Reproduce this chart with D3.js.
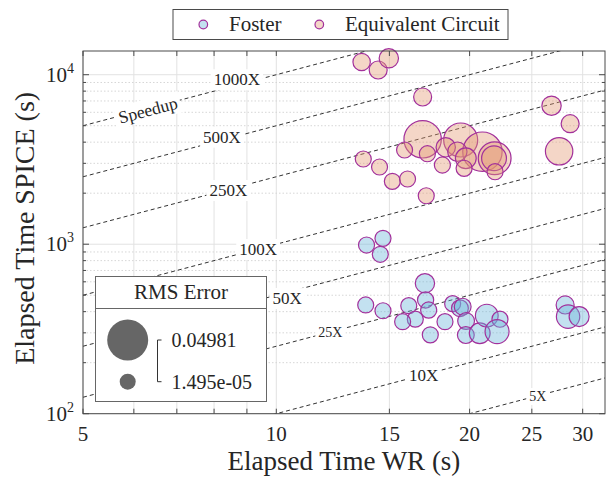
<!DOCTYPE html>
<html>
<head>
<meta charset="utf-8">
<script src="https://cdn.jsdelivr.net/npm/d3@7"></script>
<style>
  html, body { margin: 0; padding: 0; background: #fff; }
  svg { display: block; }
  text { font-family: "Liberation Serif", "Times New Roman", serif; fill: #262626; }
</style>
</head>
<body>
<svg id="chart" width="606" height="477"></svg>
<script>
// ---------------- data ----------------
const fosterWR    = [13.82, 14.66, 14.52, 17.04, 17.08, 17.27, 13.78, 14.66, 16.08, 16.46, 15.73, 17.37, 18.31, 18.82, 19.32, 19.51, 19.75, 19.73, 20.74, 21.27, 22.30, 22.07, 28.17, 28.47, 29.62];
const fosterSPICE = [989, 1083, 872, 588, 469, 409, 438, 405, 434, 361, 349, 292, 349, 446, 419, 428, 352, 291, 298, 379, 361, 305, 438, 374, 374];
const fosterRMS   = [2.0e-5, 2.0e-5, 1.5e-5, 1.1e-3, 3.0e-5, 2.5e-5, 1.5e-5, 1.5e-5, 1.5e-5, 1.5e-5, 1.5e-5, 1.5e-5, 1.5e-5, 1.5e-5, 1.2e-4, 1.2e-4, 1.2e-4, 1.2e-4, 2.1e-3, 4.0e-3, 2.0e-5, 5.5e-3, 4.6e-4, 4.7e-3, 1.5e-3];

const circuitWR    = [13.58, 14.41, 14.97, 16.90, 26.83, 28.68, 27.57, 16.90, 19.37, 20.94, 21.88, 21.83, 21.91, 15.84, 17.19, 18.36, 19.14, 19.73, 18.14, 19.61, 13.66, 14.48, 15.16, 16.01, 17.12];
const circuitSPICE = [11885, 10660, 12497, 7388, 6564, 5139, 3533, 4158, 4118, 3514, 3212, 3212, 2677, 3595, 3418, 3729, 3514, 3212, 2933, 2804, 3182, 2854, 2350, 2425, 1932];
const circuitRMS   = [2.6e-4, 4.6e-4, 1.1e-3, 4.6e-4, 1.1e-3, 4.6e-4, 1.08e-2, 3.67e-2, 2.62e-2, 4.37e-2, 2.29e-2, 6.6e-3, 2.0e-5, 1.5e-5, 2.0e-5, 1.1e-3, 1.1e-3, 2.1e-3, 2.0e-5, 2.0e-5, 1.5e-5, 1.5e-5, 1.5e-5, 1.5e-5, 1.5e-5];

const seriesNames = ["Foster", "Equivalent Circuit"];
const rmsLegendValues = [0.04981, 1.495e-05];
const rmsLegendLabels = ["0.04981", "1.495e-05"];

const speedups = [1000, 500, 250, 100, 50, 25, 10, 5];
// label anchor positions (data coords) along the speedup lines
const speedupLabels = [
  { text: "1000X", x: 8.68,  y: 9396, size: 17 },
  { text: "500X",  x: 8.23,  y: 4308, size: 17 },
  { text: "250X",  x: 8.42,  y: 2088, size: 17 },
  { text: "100X",  x: 9.37,  y: 937,  size: 17 },
  { text: "50X",   x: 10.4,  y: 481,  size: 17 },
  { text: "25X",   x: 12.14, y: 303,  size: 14 },
  { text: "10X",   x: 16.96, y: 169,  size: 17 },
  { text: "5X",    x: 25.54, y: 127,  size: 14 }
];
const speedupTitle = { text: "Speedup", x: 6.31, y: 6190, size: 17.5 };

const xTickValues = [5, 6, 7, 8, 9, 10, 15, 20, 25, 30];
const xTickLabels = [5, 10, 15, 20, 25, 30];
const yMajorTicks = [100, 1000, 10000];
const yMinorTicks = [200,300,400,500,600,700,800,900,2000,3000,4000,5000,6000,7000,8000,9000];
const yTickExp = { 100: "2", 1000: "3", 10000: "4" };

// ---------------- layout ----------------
const L = 83, R = 605, T = 51, B = 413.7;
const svg = d3.select("#chart");

const x = d3.scaleLog().domain([5, 32.5]).range([L, R]);
const y = d3.scaleLog().domain([100, 13800]).range([B, T]);
const rScale = d3.scaleSqrt().domain([1.495e-05, 0.04981]).range([8, 20.5]);

const colors = {
  foster: { fill: "rgb(105,180,218)", alpha: 0.4 },
  circuit: { fill: "rgb(228,152,115)", alpha: 0.4 },
  edge: "#a2309b"
};

svg.append("defs").append("clipPath").attr("id", "plotclip")
  .append("rect").attr("x", L).attr("y", T).attr("width", R - L).attr("height", B - T);

// ---------------- grid ----------------
const grid = svg.append("g");
grid.selectAll(".vg").data(xTickValues).enter().append("line")
  .attr("x1", d => x(d)).attr("x2", d => x(d)).attr("y1", T).attr("y2", B)
  .attr("stroke", "#e2e2e2").attr("stroke-width", 1);
grid.selectAll(".hmin").data(yMinorTicks).enter().append("line")
  .attr("x1", L).attr("x2", R).attr("y1", d => y(d)).attr("y2", d => y(d))
  .attr("stroke", "#d6d6d6").attr("stroke-width", 1).attr("stroke-dasharray", "1.5,2");
grid.selectAll(".hmaj").data(yMajorTicks).enter().append("line")
  .attr("x1", L).attr("x2", R).attr("y1", d => y(d)).attr("y2", d => y(d))
  .attr("stroke", "#e2e2e2").attr("stroke-width", 1);

// ---------------- speedup lines ----------------
const lineG = svg.append("g").attr("clip-path", "url(#plotclip)");
speedups.forEach(k => {
  const xs = [5, 32.5];
  lineG.append("line")
    .attr("x1", x(xs[0])).attr("y1", y(xs[0] * k))
    .attr("x2", x(xs[1])).attr("y2", y(xs[1] * k))
    .attr("stroke", "#333").attr("stroke-width", 1)
    .attr("stroke-dasharray", "4,3");
});

const angle = Math.atan2(y(1000) - y(100), x(50) - x(5)) * 180 / Math.PI;

function drawLabel(g, d, rot) {
  const gg = g.append("g").attr("transform", `translate(${x(d.x)},${y(d.y)}) rotate(${rot})`);
  const t = gg.append("text").attr("text-anchor", "middle").attr("dy", "0.35em")
    .style("font-size", d.size + "px").text(d.text);
  const bb = t.node().getBBox();
  gg.insert("rect", "text").attr("x", bb.x - 3).attr("y", bb.y - 1)
    .attr("width", bb.width + 6).attr("height", bb.height + 2).attr("fill", "#fff");
}
const labG = svg.append("g");
speedupLabels.forEach(d => drawLabel(labG, d, 0));
drawLabel(labG, speedupTitle, angle);

// ---------------- bubbles ----------------
function drawSeries(wr, sp, rms, c) {
  const data = wr.map((v, i) => ({ x: v, y: sp[i], r: rms[i] }));
  svg.append("g").selectAll("circle").data(data).enter().append("circle")
    .attr("cx", d => x(d.x)).attr("cy", d => y(d.y)).attr("r", d => rScale(d.r))
    .attr("fill", c.fill).attr("fill-opacity", c.alpha)
    .attr("stroke", colors.edge).attr("stroke-width", 1.2);
}
drawSeries(fosterWR, fosterSPICE, fosterRMS, colors.foster);
drawSeries(circuitWR, circuitSPICE, circuitRMS, colors.circuit);

// ---------------- axes box & ticks ----------------
const ax = svg.append("g").attr("stroke", "#4a4a4a").attr("stroke-width", 1);
ax.append("rect").attr("x", L).attr("y", T).attr("width", R - L).attr("height", B - T).attr("fill", "none");
xTickValues.forEach(v => {
  ax.append("line").attr("x1", x(v)).attr("x2", x(v)).attr("y1", B).attr("y2", B - 5);
  ax.append("line").attr("x1", x(v)).attr("x2", x(v)).attr("y1", T).attr("y2", T + 5);
});
yMajorTicks.forEach(v => {
  ax.append("line").attr("x1", L).attr("x2", L + 6).attr("y1", y(v)).attr("y2", y(v));
  ax.append("line").attr("x1", R).attr("x2", R - 6).attr("y1", y(v)).attr("y2", y(v));
});
yMinorTicks.forEach(v => {
  ax.append("line").attr("x1", L).attr("x2", L + 3).attr("y1", y(v)).attr("y2", y(v));
  ax.append("line").attr("x1", R).attr("x2", R - 3).attr("y1", y(v)).attr("y2", y(v));
});

// tick labels
svg.append("g").selectAll("text").data(xTickLabels).enter().append("text")
  .attr("x", d => x(d)).attr("y", 441).attr("text-anchor", "middle")
  .style("font-size", "21px").text(d => d);
const yl = svg.append("g").selectAll("text").data(yMajorTicks).enter().append("text")
  .attr("x", 74).attr("y", d => y(d) + 7).attr("text-anchor", "end")
  .style("font-size", "21px");
yl.append("tspan").text("10");
yl.append("tspan").attr("dy", -9).style("font-size", "14px").text(d => yTickExp[d]);

// axis titles
svg.append("text").attr("x", (L + R) / 2).attr("y", 470).attr("text-anchor", "middle")
  .style("font-size", "27px").text("Elapsed Time WR (s)");
svg.append("text").attr("transform", `translate(34,${(T + B) / 2 - 4}) rotate(-90)`)
  .attr("text-anchor", "middle").style("font-size", "28px").text("Elapsed Time SPICE (s)");

// ---------------- top legend ----------------
const lg = svg.append("g");
lg.append("rect").attr("x", 173).attr("y", 9.5).attr("width", 335).attr("height", 30)
  .attr("fill", "#fff").attr("stroke", "#4a4a4a").attr("stroke-width", 1);
const legItems = [
  { name: seriesNames[0], c: colors.foster, mx: 203.3, tx: 229 },
  { name: seriesNames[1], c: colors.circuit, mx: 319.3, tx: 345 }
];
legItems.forEach(it => {
  lg.append("circle").attr("cx", it.mx).attr("cy", 24.5).attr("r", 4.3)
    .attr("fill", it.c.fill).attr("fill-opacity", it.c.alpha)
    .attr("stroke", colors.edge).attr("stroke-width", 1.2);
  lg.append("text").attr("x", it.tx).attr("y", 31).style("font-size", "21px").text(it.name);
});

// ---------------- size legend ----------------
const sg = svg.append("g");
sg.append("rect").attr("x", 95.5).attr("y", 276.5).attr("width", 171).attr("height", 125)
  .attr("fill", "#fff").attr("stroke", "#666").attr("stroke-width", 1);
sg.append("line").attr("x1", 95.5).attr("x2", 266.5).attr("y1", 308.5).attr("y2", 308.5)
  .attr("stroke", "#666").attr("stroke-width", 1);
sg.append("text").attr("x", 181).attr("y", 299).attr("text-anchor", "middle")
  .style("font-size", "21px").text("RMS Error");
const cy = [340, 381.7];
rmsLegendValues.forEach((v, i) => {
  sg.append("circle").attr("cx", 127.7).attr("cy", cy[i]).attr("r", rScale(v)).attr("fill", "#666");
  sg.append("text").attr("x", 171.5).attr("y", cy[i] + 7).style("font-size", "20px").text(rmsLegendLabels[i]);
});
sg.append("path").attr("d", `M161.5,${cy[0]}H157.5V${cy[1]}H161.5`)
  .attr("fill", "none").attr("stroke", "#333").attr("stroke-width", 1);
</script>
</body>
</html>
